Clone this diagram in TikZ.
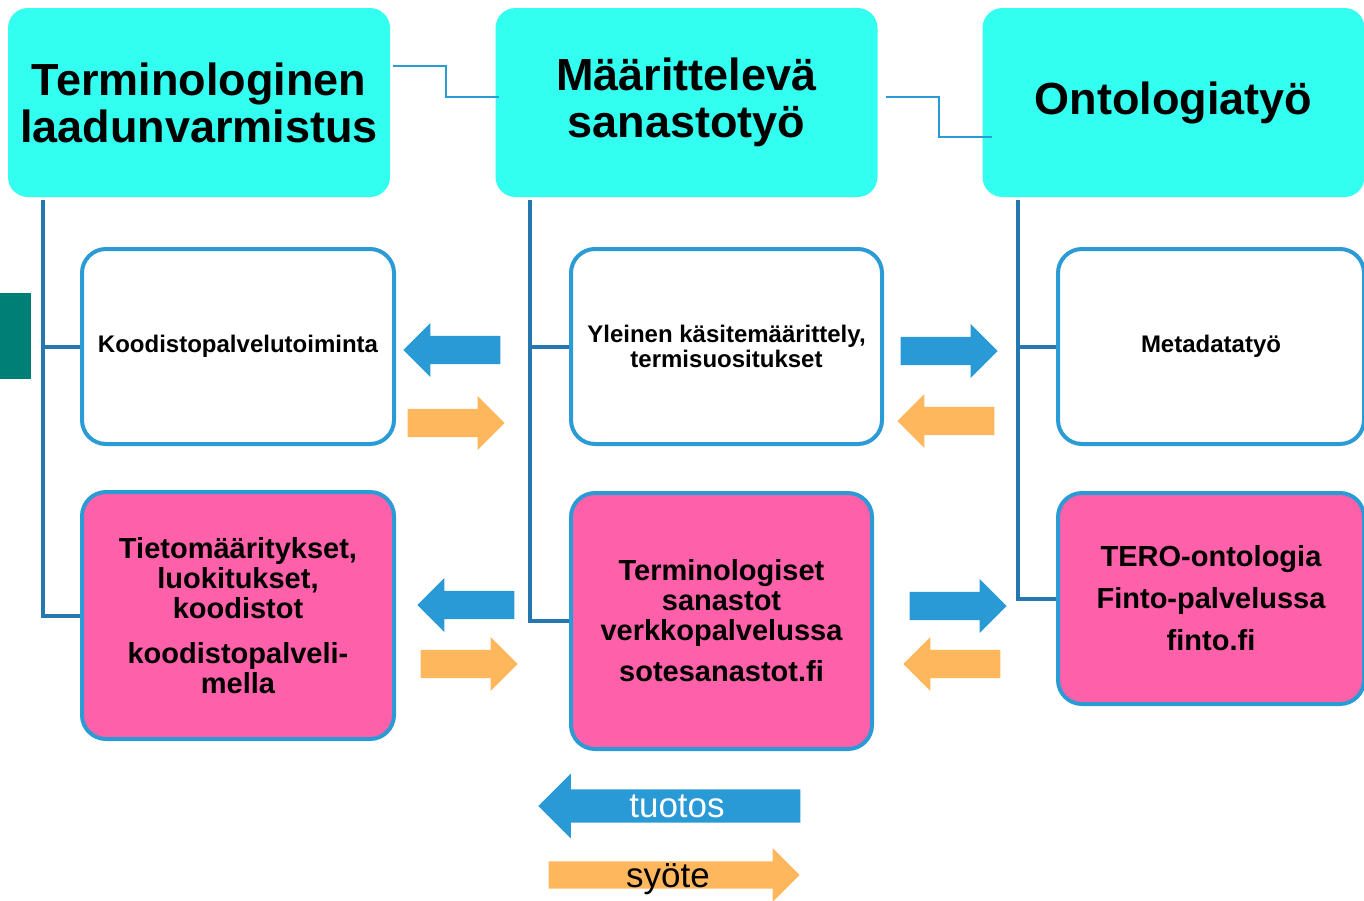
\documentclass[tikz,border=0pt]{standalone}
\usepackage{fontspec}
\setmainfont{Liberation Sans}
\usetikzlibrary{shapes.arrows}
\definecolor{headcyan}{HTML}{33FFF0}
\definecolor{boxpink}{HTML}{FF60AA}
\definecolor{rimblue}{HTML}{2B9BD6}
\definecolor{lineblue}{HTML}{2677B0}
\definecolor{arrowblue}{HTML}{2A9AD6}
\definecolor{arroworange}{HTML}{FFB75E}
\definecolor{sidegreen}{HTML}{007F77}
\tikzset{
  headbox/.style={fill=headcyan,rounded corners=20pt,minimum width=382pt,minimum height=189pt,
    inner sep=0pt,align=center,font=\fontsize{45}{47}\selectfont\bfseries},
  workbox/.style={draw=rimblue,line width=4pt,fill=white,rounded corners=24pt,minimum width=312pt,
    minimum height=195pt,align=center,font=\fontsize{24}{25}\selectfont\bfseries},
  resultbox/.style={workbox,fill=boxpink,font=\fontsize{29}{30}\selectfont\bfseries},
  link/.style={draw=lineblue,line width=4pt},
  joint/.style={draw=rimblue,line width=1.2pt},
  blockarrow/.style={single arrow,inner xsep=0pt,inner ysep=14pt,minimum width=0pt,
    single arrow head extend=13pt,minimum height=97pt,anchor=tip},
  outarrow/.style={blockarrow,fill=arrowblue},
  inarrow/.style={blockarrow,fill=arroworange},
  leftward/.style={shape border rotate=180},
}
\begin{document}
\begin{tikzpicture}[x=1pt,y=-1pt]
	\useasboundingbox (0,0) rectangle (1364,900);
	%side tab
	\fill[sidegreen] (0,293) rectangle (31,379);
	
	%head boxes
	\node[headbox] (qa) at (199,102.5) {Terminologinen\\laadunvarmistus};
	\node[headbox] (def) at (686.5,102.5) {Määrittelevä\\sanastotyö};
	\node[headbox] (onto) at (1173.5,102.5) {Ontologiatyö};
	
	%work boxes
	\node[workbox] (code) at (238,346.5) {Koodistopalvelutoiminta};
	\node[workbox,minimum width=311pt] (gen) at (726.5,346.5) {Yleinen käsitemäärittely,\\termisuositukset};
	\node[workbox,minimum width=306pt] (meta) at (1211,346.5) {Metadatatyö};
	
	%result boxes
	\node[resultbox,minimum height=247pt] (spec) at (238,615.5)
	  {Tietomääritykset,\\luokitukset,\\koodistot\\[15pt]koodistopalveli-\\mella};
	\node[resultbox,minimum width=301pt,minimum height=256pt] (vocab) at (721.5,621)
	  {Terminologiset\\sanastot\\verkkopalvelussa\\[11pt]sotesanastot.fi};
	\node[resultbox,minimum width=306pt,minimum height=211pt] (tero) at (1211,598.5)
	  {TERO-ontologia\\[12pt]Finto-palvelussa\\[12pt]finto.fi};
	
	%tree lines
	\coordinate (qa-foot) at (43,200);
	\coordinate (def-foot) at (530,200);
	\coordinate (onto-foot) at (1018,200);
	\draw[link] (qa-foot) |- (code.west); %to work box
	\draw[link] (qa-foot) |- (spec.west); %to result box
	\draw[link] (def-foot) |- (gen.west);
	\draw[link] (def-foot) |- (vocab.west);
	\draw[link] (onto-foot) |- (meta.west);
	\draw[link] (onto-foot) |- (tero.west);
	
	%thin joints
	\coordinate (qa-out) at (393,66);
	\coordinate (def-in) at (499,97);
	\coordinate (def-out) at (886,97);
	\coordinate (onto-in) at (992,137);
	\draw[joint] (qa-out) -- ++(53,0) |- (def-in);
	\draw[joint] (def-out) -- ++(53,0) |- (onto-in);
	
	%arrows upper row (placed at tips)
	\node[outarrow,leftward] (out-code) at (403,350) {};
	\node[inarrow] (in-code) at (505,423) {};
	\node[outarrow] (out-meta) at (998,351) {};
	\node[inarrow,leftward] (in-meta) at (897,421) {};
	
	%arrows lower row
	\node[outarrow,leftward] (out-spec) at (417,605) {};
	\node[inarrow] (in-spec) at (518,664) {};
	\node[outarrow] (out-tero) at (1007,606) {};
	\node[inarrow,leftward] (in-tero) at (903,664) {};
	
	%legend
	\node[outarrow,leftward,minimum height=262pt,inner ysep=16.5pt,single arrow head extend=16pt]
	  (key-out) at (538,806) {};
	\node[text=white,font=\fontsize{35}{37}\selectfont] (key-out-text) at (677,806) {tuotos};
	\node[inarrow,minimum height=251pt,inner ysep=13.5pt,single arrow head extend=13.5pt]
	  (key-in) at (800,875) {};
	\node[font=\fontsize{35}{37}\selectfont] (key-in-text) at (668,879) {syöte};
	
\end{tikzpicture}
\end{document}
